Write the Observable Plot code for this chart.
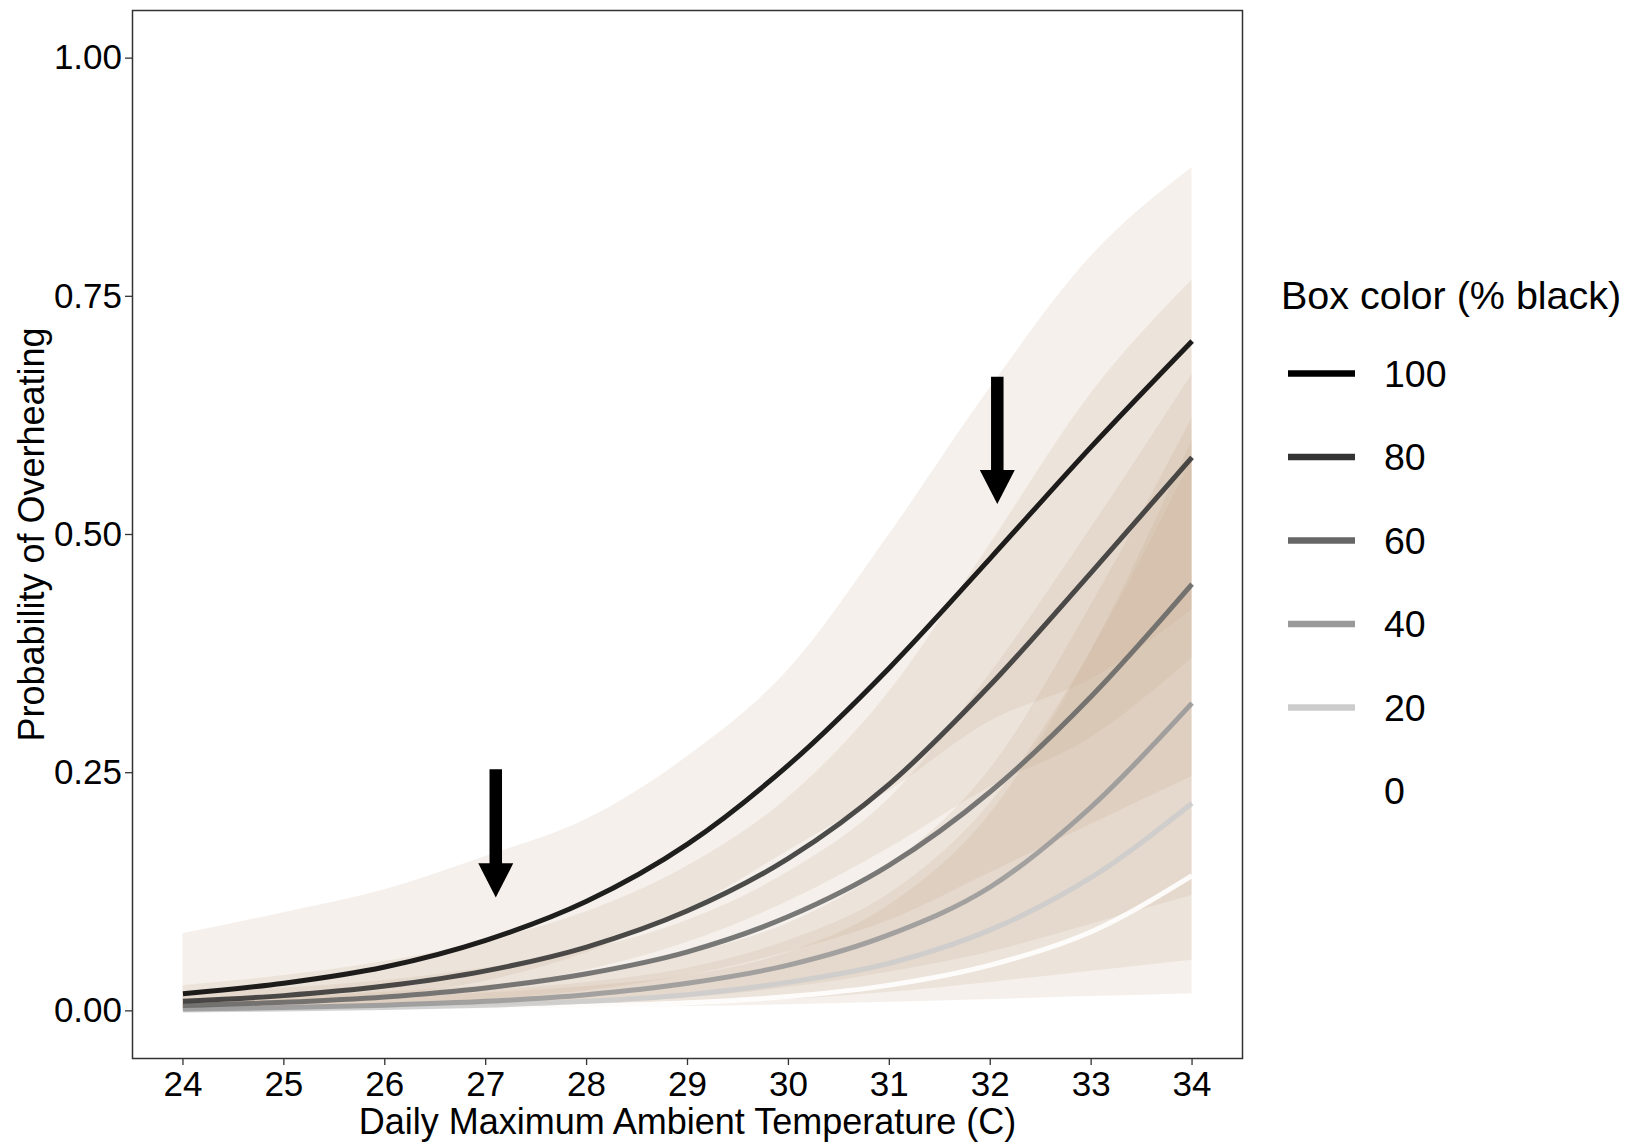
<!DOCTYPE html>
<html><head><meta charset="utf-8">
<script src="https://cdn.jsdelivr.net/npm/d3@7"></script>
<script src="https://cdn.jsdelivr.net/npm/@observablehq/plot@0.6"></script>
<style>
html,body{margin:0;padding:0;background:#fff;overflow:hidden;}
#wrap{position:relative;width:1626px;height:1143px;overflow:hidden;font-family:"Liberation Sans",Arial,sans-serif;}
#wrap svg{display:block;}
</style></head><body><div id="wrap"></div>
<script>
// ---- data ----
const temps = [24, 25, 26, 27, 28, 29, 30, 31, 32, 33, 34];
const groups = ["100", "80", "60", "40", "20", "0"];
const lineColors = ["#000000", "#333333", "#666666", "#999999", "#cccccc", "#ffffff"];

const prob100 = [0.018, 0.029, 0.046, 0.074, 0.115, 0.175, 0.258, 0.36, 0.475, 0.592, 0.703];
const lo100   = [0.0038, 0.0077, 0.0158, 0.031, 0.061, 0.106, 0.168, 0.231, 0.304, 0.348, 0.421];
const hi100   = [0.081, 0.103, 0.127, 0.162, 0.201, 0.267, 0.358, 0.50, 0.654, 0.792, 0.885];

const prob80 = [0.010, 0.016, 0.026, 0.042, 0.067, 0.105, 0.160, 0.238, 0.342, 0.460, 0.581];
const lo80   = [0.0037, 0.0070, 0.0133, 0.0241, 0.0427, 0.072, 0.115, 0.171, 0.235, 0.287, 0.370];
const hi80   = [0.0266, 0.037, 0.0517, 0.073, 0.104, 0.152, 0.224, 0.335, 0.49, 0.648, 0.767];

const prob60 = [0.0055, 0.009, 0.0146, 0.024, 0.039, 0.062, 0.099, 0.153, 0.23, 0.33, 0.448];
const lo60   = [0.0017, 0.0033, 0.006, 0.0115, 0.021, 0.037, 0.062, 0.095, 0.145, 0.196, 0.246];
const hi60   = [0.018, 0.024, 0.032, 0.045, 0.064, 0.095, 0.146, 0.223, 0.354, 0.507, 0.668];

const prob40 = [0.002, 0.0035, 0.006, 0.010, 0.017, 0.029, 0.048, 0.080, 0.130, 0.214, 0.323];
const lo40   = [0.0004, 0.0009, 0.0018, 0.0037, 0.0073, 0.0139, 0.0244, 0.0407, 0.0618, 0.091, 0.121];
const hi40   = [0.0099, 0.014, 0.0196, 0.0266, 0.0388, 0.0595, 0.092, 0.152, 0.254, 0.426, 0.622];

const prob20 = [0.001, 0.002, 0.0035, 0.006, 0.010, 0.017, 0.030, 0.050, 0.085, 0.140, 0.218];
const lo20   = [0.0001, 0.0003, 0.0008, 0.0016, 0.0033, 0.0063, 0.0118, 0.0195, 0.0299, 0.0415, 0.053];
const hi20   = [0.0074, 0.0114, 0.0155, 0.0217, 0.0299, 0.0448, 0.0738, 0.123, 0.218, 0.378, 0.579];

const prob0 = [0.0005, 0.0009, 0.0016, 0.003, 0.005, 0.0085, 0.015, 0.027, 0.048, 0.083, 0.142];
const lo0   = [0.0003, 0.0006, 0.001, 0.0017, 0.0028, 0.0045, 0.0065, 0.009, 0.012, 0.015, 0.018];
const hi0   = [0.0074, 0.0099, 0.0129, 0.0187, 0.0256, 0.037, 0.0613, 0.111, 0.207, 0.378, 0.599];

// annotation arrows (temperature, top of shaft, start of head, tip)
const arrowX    = [27.1, 32.07];
const arrowTop  = [0.253, 0.665];
const arrowNeck = [0.155, 0.569];
const arrowTip  = [0.119, 0.532];

const xTicks = [24, 25, 26, 27, 28, 29, 30, 31, 32, 33, 34];
const yTicks = [0, 0.25, 0.5, 0.75, 1];
const xTitle = "Daily Maximum Ambient Temperature (C)";
const yTitle = "Probability of Overheating";
const legendTitle = "Box color (% black)";

// ---- build table ----
const seriesByGroup = {
  "100": [prob100, lo100, hi100],
  "80": [prob80, lo80, hi80],
  "60": [prob60, lo60, hi60],
  "40": [prob40, lo40, hi40],
  "20": [prob20, lo20, hi20],
  "0": [prob0, lo0, hi0]
};
const rows = [];
for (const g of groups.slice().reverse()) {
  const [p, lo, hi] = seriesByGroup[g];
  temps.forEach((t, i) => rows.push({group: g, t, p: p[i], lo: lo[i], hi: hi[i]}));
}
const arrowIdx = arrowX.map((_, i) => i);

const downTriangle = {
  draw(context, size) {
    const r = Math.sqrt(size / Math.PI);
    context.moveTo(0, 0);
    context.lineTo(-r, -1.95 * r);
    context.lineTo(r, -1.95 * r);
    context.closePath();
  }
};

const FONT = "Liberation Sans, Arial, sans-serif";

const chart = Plot.plot({
  width: 1626,
  height: 1143,
  marginLeft: 132,
  marginRight: 384,
  marginTop: 10,
  marginBottom: 85,
  x: {domain: [23.5, 34.5]},
  y: {domain: [-0.05, 1.05]},
  color: {domain: groups, range: lineColors},
  style: {fontFamily: FONT, color: "#000", background: "#fff"},
  marks: [
    Plot.areaY(rows, {x: "t", y1: "lo", y2: "hi", z: "group", fill: "#c4a888", fillOpacity: 0.17, curve: "monotone-x"}),
    Plot.line(rows, {x: "t", y: "p", z: "group", stroke: "group", strokeWidth: 5, strokeOpacity: 0.88, strokeLinecap: "butt", curve: "monotone-x"}),
    Plot.ruleX(arrowIdx, {x: (i) => arrowX[i], y1: (i) => arrowTop[i], y2: (i) => arrowNeck[i] - 0.006, stroke: "#000", strokeWidth: 12.5, strokeLinecap: "butt"}),
    Plot.dot(arrowIdx, {x: (i) => arrowX[i], y: (i) => arrowTip[i], symbol: downTriangle, r: 17.5, fill: "#000", stroke: "none"}),
    Plot.frame({stroke: "#333", strokeWidth: 1.5}),
    Plot.axisX(xTicks, {tickSize: 7, tickPadding: 6, fontSize: 35, stroke: "#333", strokeWidth: 1.3, fill: "#000", label: null}),
    Plot.axisY(yTicks, {tickSize: 7, tickPadding: 3.5, fontSize: 35, stroke: "#333", strokeWidth: 1.3, fill: "#000", tickFormat: d3.format(".2f"), label: null}),
    Plot.text([xTitle], {frameAnchor: "bottom", dy: 64, fontSize: 36, fill: "#000", lineAnchor: "middle", textAnchor: "middle"}),
    Plot.text([yTitle], {frameAnchor: "left", dx: -100, rotate: -90, fontSize: 36, fill: "#000", lineAnchor: "middle", textAnchor: "middle"})
  ]
});
document.getElementById("wrap").appendChild(chart);

// ---- legend ----
const leg = d3.select("#wrap").append("svg")
  .attr("width", 1626).attr("height", 1143)
  .style("position", "absolute").style("left", "0px").style("top", "0px")
  .style("pointer-events", "none")
  .attr("font-family", FONT);
leg.append("text").attr("x", 1281).attr("y", 309).attr("font-size", 39.5).attr("fill", "#000").text(legendTitle);
groups.forEach((g, i) => {
  const cy = 373.5 + 83.5 * i;
  leg.append("line").attr("x1", 1288).attr("x2", 1355).attr("y1", cy).attr("y2", cy)
    .attr("stroke", lineColors[i]).attr("stroke-width", 6.5);
  leg.append("text").attr("x", 1384).attr("y", cy + 13.4).attr("font-size", 37.5).attr("fill", "#000").text(g);
});
</script>
</body></html>
